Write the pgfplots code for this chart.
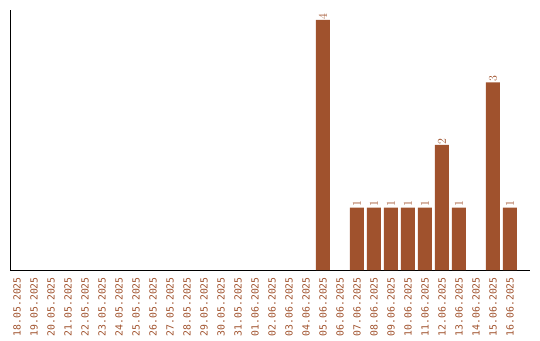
\documentclass[border=0pt]{standalone}
\usepackage{pgfplots}
\pgfplotsset{compat=1.18}
\usepackage{fontspec}
\setmainfont{DejaVu Sans Mono}
\definecolor{bar}{HTML}{A0522D}
\begin{document}
\begin{tikzpicture}[x=1bp,y=1bp]
\path[use as bounding box] (0,0) rectangle (540,340);
\begin{axis}[
  at={(10bp,70bp)}, anchor=south west,
  scale only axis, width=520bp, height=260bp,
  xmin=-0.41, xmax=30.18, ymin=0, ymax=4.16,
  axis x line=bottom, axis y line=left,
  axis line style={-, line width=0.8bp, black},
  ytick=\empty,
  xtick={0,...,29},
  major tick length=0pt,
  xticklabels={18.05.2025,19.05.2025,20.05.2025,21.05.2025,22.05.2025,23.05.2025,24.05.2025,25.05.2025,26.05.2025,27.05.2025,28.05.2025,29.05.2025,30.05.2025,31.05.2025,01.06.2025,02.06.2025,03.06.2025,04.06.2025,05.06.2025,06.06.2025,07.06.2025,08.06.2025,09.06.2025,10.06.2025,11.06.2025,12.06.2025,13.06.2025,14.06.2025,15.06.2025,16.06.2025},
  xticklabel style={rotate=90, anchor=east, font=\fontsize{9.8bp}{10bp}\selectfont, text=bar, inner sep=0pt, xshift=0pt},
  tick label style={/pgf/number format/assume math mode=true},
  xticklabel shift=7bp,
  ybar, bar width=14bp,
  nodes near coords,
  every node near coord/.style={rotate=90, anchor=west, font=\fontsize{11.5bp}{12bp}\selectfont, text=bar, inner sep=0.6bp},
]
\addplot[fill=bar, draw=none] coordinates {
(18,4) (20,1) (21,1) (22,1) (23,1) (24,1) (25,2) (26,1) (28,3) (29,1)
};
\end{axis}
\end{tikzpicture}
\end{document}
